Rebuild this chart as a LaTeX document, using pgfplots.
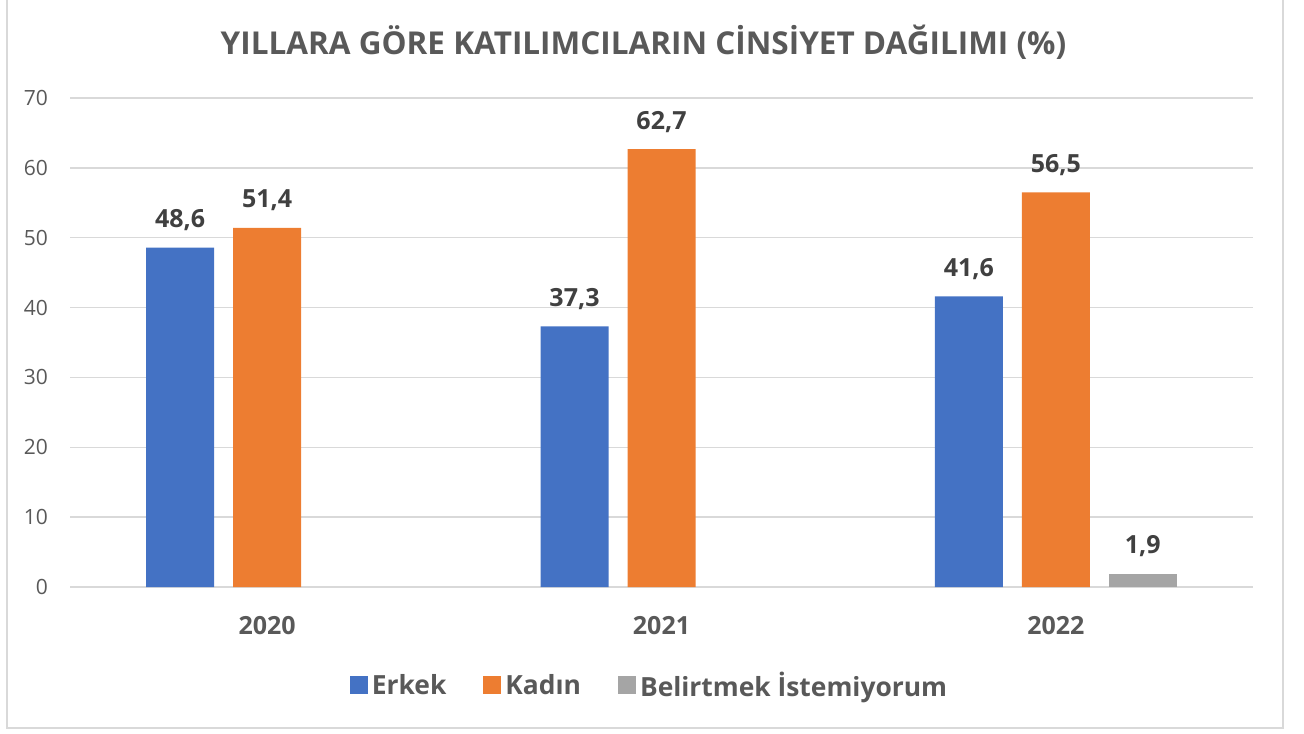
\documentclass[border=0pt]{standalone}
\usepackage{fontspec}
\setmainfont{Open Sans}
\usepackage{pgfplots}
\pgfplotsset{compat=1.18}
\definecolor{cBlue}{RGB}{68,114,196}
\definecolor{cOrange}{RGB}{237,125,49}
\definecolor{cGray}{RGB}{165,165,165}
\definecolor{cGrid}{RGB}{217,217,217}
\definecolor{cText}{RGB}{89,89,89}
\definecolor{cLabel}{RGB}{64,64,64}
\begin{document}
\begin{tikzpicture}[x=1pt,y=1pt]
\useasboundingbox (0,0) rectangle (652,366.5);
\draw[cGrid, line width=0.75pt] (3.5,367) -- (3.5,2.5) -- (641.5,2.5) -- (641.5,367);
\node[anchor=base, font=\fontsize{15.75}{19}\selectfont\bfseries, text=cText, inner sep=0pt] at (321.75,339) {YILLARA GÖRE KATILIMCILARIN CİNSİYET DAĞILIMI (\%)};
\begin{axis}[
 at={(35pt,73pt)}, anchor=south west,
 width=591.5pt, height=244.5pt, scale only axis,
 xmin=-0.5, xmax=2.5, ymin=0, ymax=70,
 ybar=9.5pt, bar width=34pt,
 xtick={0,1,2}, xticklabels={2020,2021,2022},
 ytick={0,10,...,70},
 ymajorgrids, grid style={cGrid, line width=0.75pt},
 axis line style={draw=none},
 major tick length=0pt,
 tick label style={text=cText},
 yticklabel style={font=\fontsize{10.5}{12}\selectfont, xshift=-7.5pt},
 xticklabel style={font=\fontsize{12.5}{15}\selectfont\bfseries, anchor=base, yshift=-23.5pt},
 /pgf/number format/assume math mode=true,
 nodes near coords={\pgfmathprintnumber[fixed,fixed zerofill,precision=1,use comma]{\pgfplotspointmeta}},
 every node near coord/.append style={font=\fontsize{12.5}{15}\selectfont\bfseries, text=cLabel, anchor=base, yshift=10pt},
 legend columns=3,
 legend style={draw=none, at={(0.4907,-0.2014)}, anchor=center, font=\fontsize{13.2}{16}\selectfont\bfseries, text=cText, /tikz/every even column/.append style={column sep=16.5pt}},
 legend image code/.code={\fill[#1] (0pt,-4.5pt) rectangle (9pt,4.5pt);},
]
\addplot[fill=cBlue, draw=none] coordinates {(0,48.6) (1,37.3) (2,41.6)};
\addplot[fill=cOrange, draw=none] coordinates {(0,51.4) (1,62.7) (2,56.5)};
\addplot[fill=cGray, draw=none] coordinates {(2,1.9)};
\legend{Erkek, Kadın, Belirtmek İstemiyorum}
\end{axis}
\end{tikzpicture}
\end{document}
